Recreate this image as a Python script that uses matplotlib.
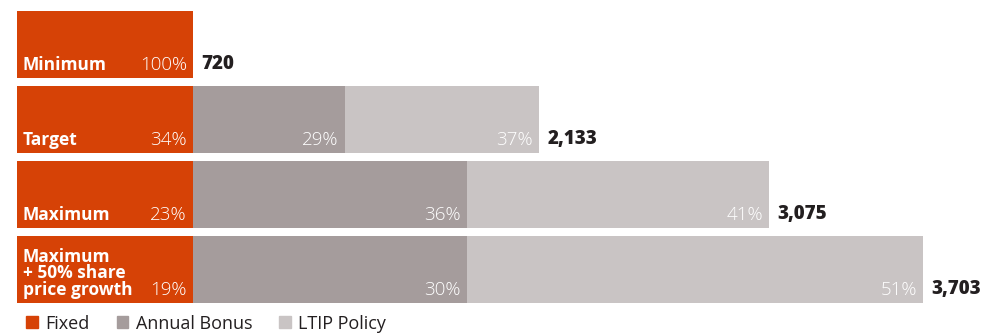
import numpy as np
import matplotlib.pyplot as plt
from matplotlib.patches import Patch

plt.rcParams['font.family'] = ['Open Sans', 'DejaVu Sans']

scenarios = ["Minimum", "Target", "Maximum", "Maximum\n+ 50% share\nprice growth"]
fixed = [720, 720, 720, 720]
bonus = [0, 620, 1120, 1120]
ltip = [0, 793, 1235, 1863]
totals = ["720", "2,133", "3,075", "3,703"]
pct_fixed = ["100%", "34%", "23%", "19%"]
pct_bonus = ["", "29%", "36%", "30%"]
pct_ltip = ["", "37%", "41%", "51%"]

c_fixed = "#D64206"
c_bonus = "#A59C9C"
c_ltip = "#C9C4C4"

W, H = 986, 334
fig = plt.figure(figsize=(W / 100, H / 100), dpi=100)
ax = fig.add_axes([17 / W, (H - 303) / H, (W - 17) / W, 292 / H])

h = 67 / 75
y = np.arange(len(scenarios))
fixed = np.array(fixed)
bonus = np.array(bonus)
ltip = np.array(ltip)

ax.barh(y, fixed, height=h, color=c_fixed, lw=0)
ax.barh(y, bonus, left=fixed, height=h, color=c_bonus, lw=0)
ax.barh(y, ltip, left=fixed + bonus, height=h, color=c_ltip, lw=0)

ax.set_xlim(0, (W - 17) / 0.2447)
ax.set_ylim(3 + h / 2, -h / 2)
ax.axis('off')

fs = 12.5
for i in y:
    bot = i + h / 2
    ax.annotate(scenarios[i], (0, bot), xytext=(4, 3), textcoords='offset points',
                ha='left', va='bottom', color='white', fontsize=fs, fontweight='bold',
                linespacing=0.9)
    ends = [fixed[i], fixed[i] + bonus[i], fixed[i] + bonus[i] + ltip[i]]
    for end, p in zip(ends, [pct_fixed[i], pct_bonus[i], pct_ltip[i]]):
        if p:
            ax.annotate(p, (end, bot), xytext=(-4.5, 3), textcoords='offset points',
                        ha='right', va='bottom', color='white', fontsize=13.5,
                        fontweight='light')
    ax.annotate(totals[i], (ends[-1], bot), xytext=(6, 3), textcoords='offset points',
                ha='left', va='bottom', color='#231F20', fontsize=13.5,
                fontweight='extra bold')

handles = [Patch(color=c_fixed), Patch(color=c_bonus), Patch(color=c_ltip)]
fig.legend(handles, ["Fixed", "Annual Bonus", "LTIP Policy"], loc='lower left',
           bbox_to_anchor=(10 / W, -0.045), ncol=3, frameon=False,
           handlelength=0.65, handleheight=0.65, handletextpad=0.4, columnspacing=1.5,
           labelcolor='#231F20', prop={'family': 'Open Sans', 'size': 13})

fig.savefig("out.png", dpi=100)
